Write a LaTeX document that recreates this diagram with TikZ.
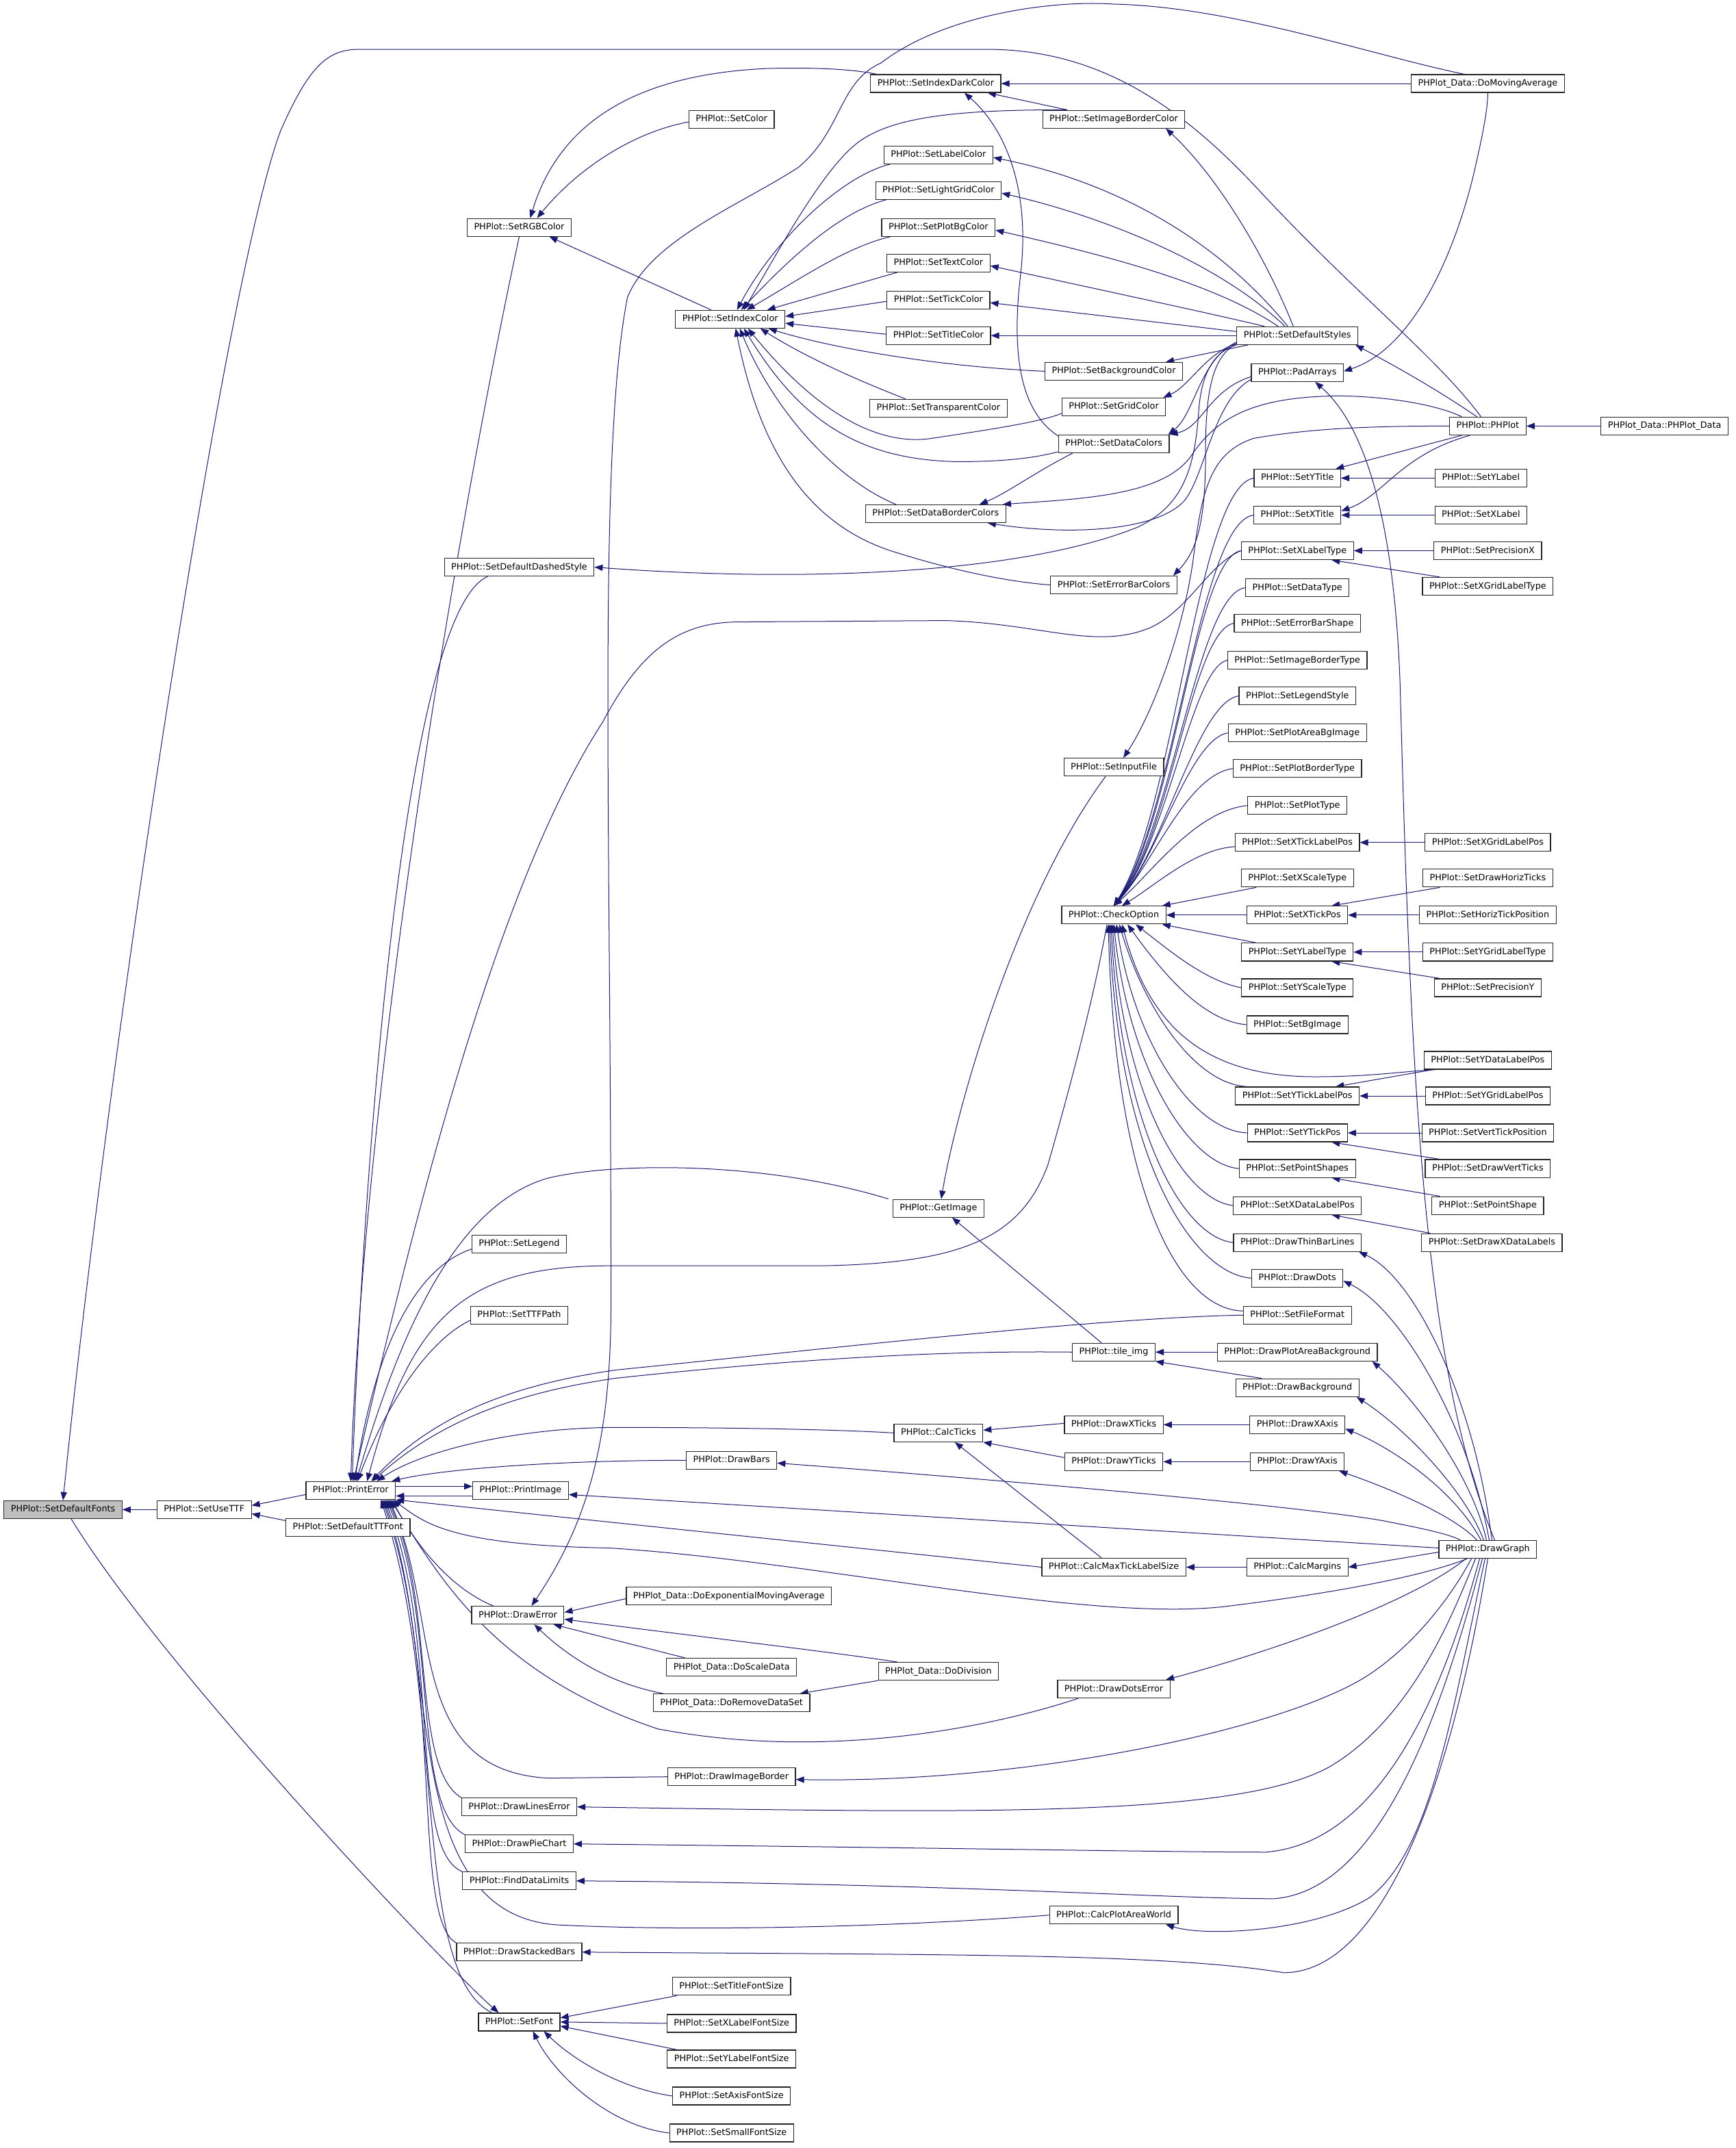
\documentclass[tikz,border=0pt]{standalone}
\usepackage{fontspec}
\setmainfont{DejaVu Sans}
\usepackage{tikz}
\usetikzlibrary{arrows.meta}
\usepackage{xcolor}
\definecolor{edgecol}{RGB}{25,25,112}
\definecolor{rootcol}{RGB}{191,191,191}
\pgfdeclarelayer{paper}
\pgfdeclarelayer{edges}
\pgfsetlayers{paper,edges,main}
\tikzset{
  % function box
  fn/.style={rectangle, draw=black!85, line width=0.6pt, fill=white, inner xsep=5pt, inner ysep=0pt,
             minimum height=13pt, text height=4.9pt, text depth=1.4pt, font=\fontsize{6.4}{7}\selectfont},
  % the function the graph is drawn for
  rootfn/.style={fn, fill=rootcol},
  % call edge: arrow at the called function
  call/.style={draw=edgecol, line width=0.5pt, {Triangle[length=6pt,width=4.6pt]}-},
}

\begin{document}
\begin{tikzpicture}[x=1pt,y=-1pt]
  \begin{pgfonlayer}{paper}
    \fill[white] (0,0) rectangle (1267,1568);
  \end{pgfonlayer}
  \useasboundingbox (0,0) rectangle (1267,1568);

  % Left column
  \node[rootfn] (sdf) at (46,1102) {PHPlot::SetDefaultFonts};
  \node[fn] (usettf) at (149,1102) {PHPlot::SetUseTTF};
  \node[fn] (perr) at (256,1088) {PHPlot::PrintError};
  \node[fn] (ttfont) at (254,1115) {PHPlot::SetDefaultTTFont};
  \node[fn] (rgb) at (379,166) {PHPlot::SetRGBColor};
  \node[fn] (dashed) at (379,414) {PHPlot::SetDefaultDashedStyle};
  \node[fn] (legend) at (379,908) {PHPlot::SetLegend};
  \node[fn] (ttfpath) at (379,960) {PHPlot::SetTTFPath};
  \node[fn] (pimg) at (380,1088) {PHPlot::PrintImage};
  \node[fn] (derr) at (378,1179) {PHPlot::DrawError};
  \node[fn] (linerr) at (379,1319) {PHPlot::DrawLinesError};
  \node[fn] (pie) at (379,1346) {PHPlot::DrawPieChart};
  \node[fn] (limits) at (379,1373) {PHPlot::FindDataLimits};
  \node[fn] (stacked) at (379,1425) {PHPlot::DrawStackedBars};
  \node[fn] (font) at (379,1476) {PHPlot::SetFont};

  % Second column
  \node[fn] (setcolor) at (534,87) {PHPlot::SetColor};
  \node[fn] (idx) at (533,233) {PHPlot::SetIndexColor};
  \node[fn] (bars) at (534,1066) {PHPlot::DrawBars};
  \node[fn] (expavg) at (532,1165) {PHPlot\_Data::DoExponentialMovingAverage};
  \node[fn] (scale) at (534,1217) {PHPlot\_Data::DoScaleData};
  \node[fn] (rmset) at (534,1243) {PHPlot\_Data::DoRemoveDataSet};
  \node[fn] (imgbord) at (534,1297) {PHPlot::DrawImageBorder};
  \node[fn] (titlefs) at (534,1450) {PHPlot::SetTitleFontSize};
  \node[fn] (xlfs) at (534,1477) {PHPlot::SetXLabelFontSize};
  \node[fn] (ylfs) at (534,1503) {PHPlot::SetYLabelFontSize};
  \node[fn] (axisfs) at (534,1530) {PHPlot::SetAxisFontSize};
  \node[fn] (smallfs) at (534,1557) {PHPlot::SetSmallFontSize};

  % Third column
  \node[fn] (idxdark) at (683,61) {PHPlot::SetIndexDarkColor};
  \node[fn] (labelc) at (685,113) {PHPlot::SetLabelColor};
  \node[fn] (lgridc) at (685,139) {PHPlot::SetLightGridColor};
  \node[fn] (plotbgc) at (685,166) {PHPlot::SetPlotBgColor};
  \node[fn] (textc) at (685,192) {PHPlot::SetTextColor};
  \node[fn] (tickc) at (685,219) {PHPlot::SetTickColor};
  \node[fn] (titlec) at (685,245) {PHPlot::SetTitleColor};
  \node[fn] (transc) at (685,298) {PHPlot::SetTransparentColor};
  \node[fn] (dborder) at (683,375) {PHPlot::SetDataBorderColors};
  \node[fn] (getimg) at (685,882) {PHPlot::GetImage};
  \node[fn] (ticks) at (685,1046) {PHPlot::CalcTicks};
  \node[fn] (division) at (685,1220) {PHPlot\_Data::DoDivision};

  % Fourth column
  \node[fn] (imgborder) at (813,87) {PHPlot::SetImageBorderColor};
  \node[fn] (bgc) at (813,271) {PHPlot::SetBackgroundColor};
  \node[fn] (gridc) at (813,297) {PHPlot::SetGridColor};
  \node[fn] (datac) at (813,324) {PHPlot::SetDataColors};
  \node[fn] (errbar) at (813,427) {PHPlot::SetErrorBarColors};
  \node[fn] (infile) at (813,560) {PHPlot::SetInputFile};
  \node[fn] (chk) at (813,668) {PHPlot::CheckOption};
  \node[fn] (tile) at (813,987) {PHPlot::tile\_img};
  \node[fn] (xticks) at (813,1040) {PHPlot::DrawXTicks};
  \node[fn] (yticks) at (813,1067) {PHPlot::DrawYTicks};
  \node[fn] (maxtick) at (813,1144) {PHPlot::CalcMaxTickLabelSize};
  \node[fn] (dotserr) at (813,1233) {PHPlot::DrawDotsError};
  \node[fn] (areaworld) at (813,1398) {PHPlot::CalcPlotAreaWorld};

  % Fifth column
  \node[fn] (sds) at (947,245) {PHPlot::SetDefaultStyles};
  \node[fn] (pad) at (947,272) {PHPlot::PadArrays};
  \node[fn] (ytitle) at (947,349) {PHPlot::SetYTitle};
  \node[fn] (xtitle) at (947,376) {PHPlot::SetXTitle};
  \node[fn] (xlt) at (947,402) {PHPlot::SetXLabelType};
  \node[fn] (dtype) at (947,429) {PHPlot::SetDataType};
  \node[fn] (ebshape) at (947,455) {PHPlot::SetErrorBarShape};
  \node[fn] (ibtype) at (947,482) {PHPlot::SetImageBorderType};
  \node[fn] (lstyle) at (947,508) {PHPlot::SetLegendStyle};
  \node[fn] (pabg) at (947,535) {PHPlot::SetPlotAreaBgImage};
  \node[fn] (pbtype) at (947,561) {PHPlot::SetPlotBorderType};
  \node[fn] (ptype) at (947,588) {PHPlot::SetPlotType};
  \node[fn] (xtlp) at (947,615) {PHPlot::SetXTickLabelPos};
  \node[fn] (xscale) at (947,641) {PHPlot::SetXScaleType};
  \node[fn] (xtp) at (947,668) {PHPlot::SetXTickPos};
  \node[fn] (ylt) at (947,695) {PHPlot::SetYLabelType};
  \node[fn] (yscale) at (947,721) {PHPlot::SetYScaleType};
  \node[fn] (bgimg) at (947,748) {PHPlot::SetBgImage};
  \node[fn] (ytlp) at (947,800) {PHPlot::SetYTickLabelPos};
  \node[fn] (ytp) at (947,827) {PHPlot::SetYTickPos};
  \node[fn] (pshapes) at (947,853) {PHPlot::SetPointShapes};
  \node[fn] (xdlp) at (947,880) {PHPlot::SetXDataLabelPos};
  \node[fn] (thinbar) at (947,907) {PHPlot::DrawThinBarLines};
  \node[fn] (dots) at (947,933) {PHPlot::DrawDots};
  \node[fn] (ffmt) at (947,960) {PHPlot::SetFileFormat};
  \node[fn] (pabgd) at (947,987) {PHPlot::DrawPlotAreaBackground};
  \node[fn] (dbg) at (947,1013) {PHPlot::DrawBackground};
  \node[fn] (xaxis) at (947,1040) {PHPlot::DrawXAxis};
  \node[fn] (yaxis) at (947,1067) {PHPlot::DrawYAxis};
  \node[fn] (margins) at (947,1144) {PHPlot::CalcMargins};

  % Right columns
  \node[fn] (movavg) at (1086,61) {PHPlot\_Data::DoMovingAverage};
  \node[fn] (phplot) at (1086,311) {PHPlot::PHPlot};
  \node[fn] (phdata) at (1215,311) {PHPlot\_Data::PHPlot\_Data};
  \node[fn] (ylabel) at (1081,349) {PHPlot::SetYLabel};
  \node[fn] (xlabel) at (1081,376) {PHPlot::SetXLabel};
  \node[fn] (precx) at (1086,402) {PHPlot::SetPrecisionX};
  \node[fn] (xglt) at (1086,428) {PHPlot::SetXGridLabelType};
  \node[fn] (xglp) at (1086,615) {PHPlot::SetXGridLabelPos};
  \node[fn] (dht) at (1086,641) {PHPlot::SetDrawHorizTicks};
  \node[fn] (htp) at (1086,668) {PHPlot::SetHorizTickPosition};
  \node[fn] (yglt) at (1086,695) {PHPlot::SetYGridLabelType};
  \node[fn] (precy) at (1086,721) {PHPlot::SetPrecisionY};
  \node[fn] (ydlp) at (1086,774) {PHPlot::SetYDataLabelPos};
  \node[fn] (yglp) at (1086,800) {PHPlot::SetYGridLabelPos};
  \node[fn] (vtp) at (1086,827) {PHPlot::SetVertTickPosition};
  \node[fn] (dvt) at (1086,853) {PHPlot::SetDrawVertTicks};
  \node[fn] (pshape) at (1086,880) {PHPlot::SetPointShape};
  \node[fn] (dxdl) at (1089,907) {PHPlot::SetDrawXDataLabels};
  \node[fn] (graph) at (1086,1131) {PHPlot::DrawGraph};

  \begin{pgfonlayer}{edges}
  % root
  \draw[call] (sdf.east) -- (usettf.west);
  \draw[call] (sdf.north) .. controls (80,760) and (165,200) .. (205,95) .. controls (225,50) and (238,36) .. (262,36)
     -- (720,36) .. controls (800,36) and (860,75) .. (920,140) .. controls (990,215) and (1050,262) .. ([xshift=-5pt]phplot.north);
  \draw[call] ([xshift=-15pt]font.north) .. controls (330,1440) and (120,1220) .. ([xshift=6pt]sdf.south);
  \draw[call] ([yshift=3pt]usettf.east) -- ([yshift=-3pt]perr.west);
  \draw[call] ([yshift=-3pt]usettf.east) -- ([yshift=5pt]ttfont.west);

  % colours
  \draw[call] ([xshift=13pt]rgb.north) .. controls (420,125) and (460,97) .. ([yshift=-2pt]setcolor.west);
  \draw[call] ([xshift=8pt]rgb.north) .. controls (405,100) and (450,55) .. (560,50) .. controls (600,49) and (625,51) .. ([xshift=5pt]idxdark.north west);
  \draw[call] ([xshift=22pt]rgb.south) -- ([xshift=-14pt]idx.north);
  \draw[call] ([xshift=10pt]idx.north) .. controls (570,180) and (600,125) .. (625,105) .. controls (650,85) and (700,80) .. ([xshift=-34pt]imgborder.north);
  \draw[call] ([xshift=5pt]idx.north) .. controls (565,175) and (615,128) .. ([xshift=-35pt]labelc.south);
  \draw[call] ([xshift=8pt]idx.north) .. controls (575,190) and (612,155) .. ([xshift=-38pt]lgridc.south);
  \draw[call] ([xshift=12pt]idx.north) .. controls (582,205) and (618,180) .. ([xshift=-35pt]plotbgc.south);
  \draw[call] ([xshift=27pt]idx.north) -- ([xshift=-30pt]textc.south);
  \draw[call] ([yshift=2pt]idx.east) -- ([yshift=-1pt]tickc.west);
  \draw[call] ([yshift=-3pt]idx.east) -- ([yshift=1pt]titlec.west);
  \draw[call] ([xshift=28pt]idx.south) .. controls (610,255) and (690,268) .. (bgc.west);
  \draw[call] ([xshift=22pt]idx.south) .. controls (590,262) and (632,280) .. ([xshift=-24pt]transc.north);
  \draw[call] ([xshift=13pt]idx.south) .. controls (595,300) and (640,326) .. (680,320) .. controls (720,314) and (760,308) .. ([yshift=2pt]gridc.south west);
  \draw[call] ([xshift=10pt]idx.south) .. controls (580,300) and (620,336) .. (700,337) .. controls (740,337) and (760,333) .. ([yshift=1pt]datac.south west);
  \draw[call] ([xshift=7pt]idx.south) .. controls (565,300) and (610,350) .. ([xshift=-29pt]dborder.north);
  \draw[call] ([xshift=4pt]idx.south) .. controls (555,330) and (590,382) .. (650,402) .. controls (700,418) and (740,425) .. (errbar.west);
  \draw[call] (idxdark.east) -- (movavg.west);
  \draw[call] ([xshift=38pt]idxdark.south) -- ([xshift=-34pt]imgborder.north);
  \draw[call] ([xshift=21pt]idxdark.south) .. controls (735,95) and (752,140) .. (745,200) .. controls (738,260) and (745,300) .. ([yshift=-1pt]datac.north west);

  % default styles
  \draw[call] ([yshift=-2pt]labelc.east) .. controls (800,130) and (880,165) .. ([xshift=-7pt]sds.north);
  \draw[call] ([yshift=-2pt]lgridc.east) .. controls (805,158) and (890,192) .. ([xshift=-9pt]sds.north);
  \draw[call] ([yshift=-2pt]plotbgc.east) .. controls (805,186) and (885,206) .. ([xshift=-14pt]sds.north);
  \draw[call] ([yshift=-2pt]textc.east) .. controls (805,212) and (880,228) .. ([xshift=-24pt]sds.north);
  \draw[call] ([xshift=38pt]imgborder.south) .. controls (890,130) and (925,190) .. ([xshift=-3pt]sds.north);
  \draw[call] ([yshift=-2pt]tickc.east) -- ([yshift=3pt]sds.west);
  \draw[call] (titlec.east) -- (sds.west);
  \draw[call] ([xshift=38pt]bgc.north) -- ([xshift=-36pt]sds.south);
  \draw[call] ([xshift=-2pt]gridc.north east) .. controls (868,282) and (880,258) .. ([yshift=1pt]sds.south west);
  \draw[call] ([xshift=-1pt]datac.north east) .. controls (872,302) and (876,262) .. ([yshift=2pt]sds.south west);
  \draw[call] (datac.north east) .. controls (878,312) and (882,285) .. ([yshift=-3pt]pad.west);
  \draw[call] ([xshift=-3pt]errbar.north east) .. controls (874,402) and (880,380) .. (880,330) .. controls (880,282) and (886,260) .. ([yshift=1pt]sds.south west);
  \draw[call] (dashed.east) .. controls (500,419) and (560,420) .. (600,419) .. controls (700,417) and (780,405) .. (830,385)
     .. controls (862,370) and (872,345) .. (875,300) .. controls (877,270) and (888,256) .. (sds.south west);
  \draw[call] ([xshift=-2pt]sds.south east) .. controls (1020,268) and (1050,285) .. ([xshift=-8pt]phplot.north);

  % data colours and pad arrays
  \draw[call] ([xshift=32pt]dborder.north) .. controls (735,360) and (755,345) .. ([xshift=-30pt]datac.south);
  \draw[call] ([xshift=49pt]dborder.north) .. controls (790,364) and (850,362) .. (870,332) .. controls (890,302) and (920,290) .. (975,289)
     .. controls (1010,289) and (1048,295) .. ([xshift=-19pt]phplot.north);
  \draw[call] ([xshift=38pt]dborder.south) .. controls (780,391) and (845,388) .. (865,365) .. controls (880,345) and (886,292) .. ([yshift=-5pt]pad.west);
  \draw[call] ([yshift=1pt]pad.east) .. controls (1030,255) and (1060,190) .. (1075,130) .. controls (1082,100) and (1086,80) .. (movavg.south);
  \draw[call] ([xshift=13pt]pad.south) .. controls (998,312) and (1018,385) .. (1022,500) .. controls (1030,800) and (1040,1000) .. ([xshift=5pt]graph.north);

  % constructor
  \draw[call] (phplot.east) -- (phdata.west);
  \draw[call] ([xshift=28pt]ytitle.north) -- ([xshift=-19pt]phplot.south);
  \draw[call] ([yshift=3pt]xtitle.east) .. controls (1010,362) and (1022,332) .. ([xshift=-13pt]phplot.south);
  \draw[call] ([xshift=7pt]infile.north) .. controls (842,520) and (866,455) .. (872,400) .. controls (878,355) and (885,330) .. (915,320)
     .. controls (960,312) and (1010,311) .. (phplot.west);
  \draw[call] (ytitle.east) -- (ylabel.west);
  \draw[call] (xtitle.east) -- (xlabel.west);

  % check option fan
  \draw[call] (chk.north) .. controls (858,590) and (874,356) .. (ytitle.west);
  \draw[call] (chk.north) .. controls (858,595) and (875,382) .. (xtitle.west);
  \draw[call] (chk.north) .. controls (857,600) and (872,408) .. (xlt.west);
  \draw[call] (chk.north) .. controls (856,605) and (874,434) .. (dtype.west);
  \draw[call] (chk.north) .. controls (855,610) and (870,460) .. (ebshape.west);
  \draw[call] (chk.north) .. controls (852,615) and (870,487) .. (ibtype.west);
  \draw[call] (chk.north) .. controls (850,620) and (874,513) .. (lstyle.west);
  \draw[call] (chk.north) .. controls (846,625) and (868,540) .. (pabg.west);
  \draw[call] (chk.north) .. controls (842,630) and (866,566) .. (pbtype.west);
  \draw[call] (chk.north) .. controls (840,638) and (872,592) .. (ptype.west);
  \draw[call] ([xshift=6pt]chk.north) .. controls (845,645) and (872,620) .. ([yshift=-3pt]xtlp.west);
  \draw[call] ([xshift=-3pt]chk.north east) -- ([xshift=-30pt]xscale.south);
  \draw[call] (chk.east) -- (xtp.west);
  \draw[call] ([xshift=-3pt]chk.south east) -- ([xshift=-30pt]ylt.north);
  \draw[call] ([xshift=16pt]chk.south) .. controls (855,695) and (880,716) .. (yscale.west);
  \draw[call] ([xshift=10pt]chk.south) .. controls (850,712) and (878,745) .. (bgimg.west);
  \draw[call] ([xshift=6pt]chk.south) .. controls (838,745) and (875,786) .. (960,786) .. controls (1000,786) and (1025,782) .. ([xshift=-38pt]ydlp.south);
  \draw[call] ([xshift=4pt]chk.south) .. controls (835,735) and (872,792) .. ([xshift=-36pt]ytlp.north);
  \draw[call] ([xshift=2pt]chk.south) .. controls (828,760) and (870,825) .. (ytp.west);
  \draw[call] (chk.south) .. controls (824,780) and (868,850) .. (pshapes.west);
  \draw[call] ([xshift=-1pt]chk.south) .. controls (820,800) and (864,876) .. (xdlp.west);
  \draw[call] ([xshift=-2pt]chk.south) .. controls (818,820) and (862,903) .. (thinbar.west);
  \draw[call] ([xshift=-3pt]chk.south) .. controls (816,845) and (870,930) .. (dots.west);
  \draw[call] ([xshift=-4pt]chk.south) .. controls (814,870) and (860,956) .. ([yshift=3pt]ffmt.west);

  % option setters on the right
  \draw[call] (xlt.east) -- (precx.west);
  \draw[call] ([xshift=25pt]xlt.south) -- ([xshift=-35pt]xglt.north);
  \draw[call] (xtlp.east) -- (xglp.west);
  \draw[call] ([xshift=25pt]xtp.north) -- ([xshift=-35pt]dht.south);
  \draw[call] (xtp.east) -- (htp.west);
  \draw[call] (ylt.east) -- (yglt.west);
  \draw[call] ([xshift=25pt]ylt.south) -- ([xshift=-35pt]precy.north);
  \draw[call] ([xshift=28pt]ytlp.north) -- ([xshift=-40pt]ydlp.south);
  \draw[call] (ytlp.east) -- (yglp.west);
  \draw[call] (ytp.east) -- (vtp.west);
  \draw[call] ([xshift=25pt]ytp.south) -- ([xshift=-35pt]dvt.north);
  \draw[call] ([xshift=25pt]pshapes.south) -- ([xshift=-35pt]pshape.north);
  \draw[call] ([xshift=25pt]xdlp.south) -- ([xshift=-45pt]dxdl.north);

  % image and ticks
  \draw[call] ([xshift=2pt]getimg.north) .. controls (700,800) and (745,650) .. ([xshift=-6pt]infile.south);
  \draw[call] ([xshift=10pt]getimg.south) -- ([xshift=-9pt]tile.north);
  \draw[call] (tile.east) -- (pabgd.west);
  \draw[call] (tile.south east) -- ([xshift=-26pt]dbg.north);
  \draw[call] ([yshift=2pt]ticks.east) -- ([yshift=1pt]xticks.west);
  \draw[call] (ticks.south east) -- ([yshift=3pt]yticks.west);
  \draw[call] ([xshift=12pt]ticks.south) -- ([xshift=-9pt]maxtick.north);
  \draw[call] (xticks.east) -- (xaxis.west);
  \draw[call] (yticks.east) -- (yaxis.west);
  \draw[call] (maxtick.east) -- (margins.west);

  % draw graph fan
  \draw[call] (margins.east) -- ([yshift=-2pt]graph.west);
  \draw[call] ([xshift=-4pt]yaxis.south east) .. controls (1010,1085) and (1060,1105) .. ([xshift=-8pt]graph.north);
  \draw[call] ([yshift=-3pt]xaxis.east) .. controls (1012,1055) and (1060,1085) .. ([xshift=-5pt]graph.north);
  \draw[call] ([xshift=-2pt]dbg.south east) .. controls (1022,1040) and (1068,1085) .. ([xshift=-3pt]graph.north);
  \draw[call] ([xshift=-4pt]pabgd.south east) .. controls (1030,1018) and (1074,1075) .. ([xshift=-1pt]graph.north);
  \draw[call] ([yshift=-2pt]dots.east) .. controls (1022,955) and (1072,1040) .. ([xshift=1pt]graph.north);
  \draw[call] ([xshift=-2pt]thinbar.south east) .. controls (1032,932) and (1076,1020) .. ([xshift=3pt]graph.north);
  \draw[call] ([yshift=-3pt]pimg.east) -- ([yshift=1pt]graph.west);
  \draw[call] ([yshift=-2pt]bars.east) .. controls (700,1078) and (940,1098) .. (1009,1110) .. controls (1040,1116) and (1058,1120) .. ([xshift=-20pt]graph.north);
  \draw[call] ([xshift=38pt]dotserr.north) .. controls (930,1205) and (1030,1170) .. ([xshift=-16pt]graph.south);
  \draw[call] ([yshift=-2pt]imgbord.east) .. controls (750,1302) and (940,1262) .. (1000,1222) .. controls (1040,1195) and (1065,1155) .. ([xshift=-12pt]graph.south);
  \draw[call] (linerr.east) .. controls (700,1323) and (900,1328) .. (970,1290) .. controls (1030,1255) and (1060,1180) .. ([xshift=-9pt]graph.south);
  \draw[call] (pie.east) .. controls (700,1349) and (850,1352) .. (924,1352) .. controls (1010,1345) and (1055,1230) .. ([xshift=-6pt]graph.south);
  \draw[call] (limits.east) .. controls (700,1375) and (850,1386) .. (930,1386) .. controls (1005,1380) and (1050,1260) .. ([xshift=-4pt]graph.south);
  \draw[call] ([xshift=38pt]areaworld.south) .. controls (880,1414) and (960,1410) .. (1000,1385) .. controls (1045,1350) and (1060,1250) .. ([xshift=-2pt]graph.south);
  \draw[call] (stacked.east) .. controls (700,1427) and (850,1426) .. (937,1440) .. controls (1010,1440) and (1060,1300) .. (graph.south);

  % print error fan
  \draw[call] (perr.north) .. controls (265,800) and (330,400) .. (rgb.south);
  \draw[call] ([xshift=1pt]perr.north) .. controls (268,790) and (300,445) .. ([xshift=-23pt]dashed.south);
  \draw[call] ([xshift=2pt]perr.north) .. controls (300,900) and (360,650) .. (440,527) .. controls (470,470) and (500,454) .. (540,454)
     -- (690,453) .. controls (760,455) and (800,475) .. (840,458) .. controls (868,445) and (882,412) .. (xlt.west);
  \draw[call] ([xshift=4pt]perr.north) .. controls (290,980) and (330,880) .. (400,860) .. controls (450,848) and (560,848) .. ([xshift=-3pt]getimg.north west);
  \draw[call] ([xshift=3pt]perr.north) .. controls (268,1020) and (290,930) .. ([yshift=3pt]legend.south west);
  \draw[call] ([xshift=5pt]perr.north) .. controls (280,1030) and (310,980) .. ([yshift=3pt]ttfpath.south west);
  \draw[call] ([xshift=12pt]perr.north) .. controls (300,960) and (340,924) .. (445,924) -- (600,924)
     .. controls (700,922) and (745,905) .. (765,850) .. controls (785,780) and (800,720) .. ([xshift=-5pt]chk.south);
  \draw[call] ([xshift=15pt]perr.north) .. controls (320,1030) and (380,1010) .. (450,1000) .. controls (600,985) and (800,962) .. (ffmt.west);
  \draw[call] ([xshift=16pt]perr.north) .. controls (322,1036) and (380,1016) .. (450,1006) .. controls (600,990) and (700,986) .. (tile.west);
  \draw[call] ([xshift=19pt]perr.north) .. controls (310,1058) and (380,1042) .. (450,1042) .. controls (550,1042) and (620,1044) .. (ticks.west);
  \draw[call] ([xshift=-3pt]perr.north east) .. controls (320,1073) and (400,1066) .. (bars.west);
  \draw[call] ([yshift=3pt]pimg.west) -- ([yshift=3pt]perr.east);
  \draw[call] ([yshift=-4pt]perr.east) -- ([yshift=-4pt]pimg.west);
  \draw[call] (perr.south east) -- (maxtick.west);
  \draw[call] ([xshift=-2pt]perr.south east) .. controls (310,1112) and (330,1128) .. (445,1130) .. controls (600,1140) and (800,1186) .. (900,1172)
     .. controls (980,1162) and (1040,1150) .. ([xshift=-15pt]graph.south);
  \draw[call] ([xshift=-3pt]perr.south east) .. controls (305,1130) and (330,1160) .. ([xshift=-18pt]derr.north);
  \draw[call] ([xshift=-4pt]perr.south east) .. controls (320,1150) and (360,1222) .. (480,1262) .. controls (600,1285) and (720,1262) .. ([xshift=-26pt]dotserr.south);
  \draw[call] ([xshift=-5pt]perr.south east) .. controls (322,1180) and (295,1292) .. (400,1298) -- (imgbord.west);
  \draw[call] ([xshift=-6pt]perr.south east) .. controls (318,1170) and (300,1290) .. (linerr.north west);
  \draw[call] ([xshift=-7pt]perr.south east) .. controls (320,1180) and (300,1320) .. (pie.north west);
  \draw[call] ([xshift=-8pt]perr.south east) .. controls (322,1200) and (298,1350) .. (limits.north west);
  \draw[call] ([xshift=-9pt]perr.south east) .. controls (322,1210) and (290,1395) .. (405,1405) .. controls (500,1410) and (650,1407) .. (areaworld.west);
  \draw[call] ([xshift=-10pt]perr.south east) .. controls (324,1220) and (300,1400) .. (stacked.north west);
  \draw[call] ([xshift=-11pt]perr.south east) .. controls (326,1240) and (300,1440) .. ([xshift=-20pt]font.north);

  % draw error
  \draw[call] ([yshift=2pt]derr.east) -- ([yshift=-2pt]expavg.west);
  \draw[call] ([yshift=-3pt]derr.east) .. controls (520,1196) and (600,1205) .. ([xshift=-30pt]division.north);
  \draw[call] ([xshift=26pt]derr.south) -- ([xshift=-34pt]scale.north);
  \draw[call] ([xshift=12pt]derr.south) .. controls (410,1205) and (440,1228) .. ([xshift=-50pt]rmset.north);
  \draw[call] ([xshift=50pt]rmset.north) -- (division.south west);
  \draw[call] ([xshift=10pt]derr.north) .. controls (430,1110) and (446,1050) .. (446,950) .. controls (446,600) and (436,330) .. (458,217)
     .. controls (475,175) and (540,150) .. (583,122) .. controls (615,95) and (612,60) .. (643,46)
     .. controls (690,10) and (770,0) .. (813,3) .. controls (900,5) and (1000,40) .. ([xshift=-17pt]movavg.north);

  % fonts
  \draw[call] ([yshift=3pt]font.east) -- ([xshift=-40pt]titlefs.south);
  \draw[call] (font.east) -- (xlfs.west);
  \draw[call] ([yshift=-3pt]font.east) -- ([xshift=-40pt]ylfs.north);
  \draw[call] ([xshift=18pt]font.south) .. controls (420,1505) and (455,1525) .. (axisfs.west);
  \draw[call] ([xshift=10pt]font.south) .. controls (405,1515) and (445,1552) .. (smallfs.west);
  \end{pgfonlayer}
\end{tikzpicture}
\end{document}
